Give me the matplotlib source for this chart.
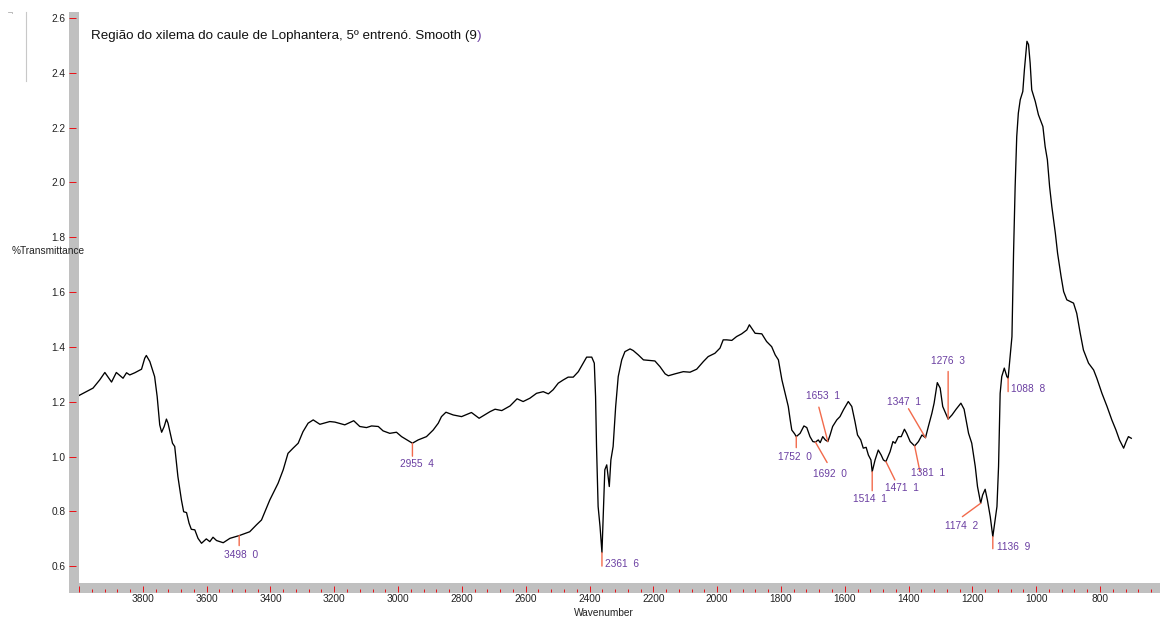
import numpy as np
import matplotlib
matplotlib.use("Agg")
import matplotlib.pyplot as plt
from matplotlib.patches import Rectangle
from matplotlib.lines import Line2D
from matplotlib.ticker import MultipleLocator, FuncFormatter

plt.rcParams['font.family'] = ['Liberation Sans', 'DejaVu Sans']

# Smoothed FTIR spectrum (wavenumber in cm-1, %T)
wavenumber = [
    4000, 3956, 3935, 3919, 3898, 3883, 3862, 3851, 3841, 3825, 3804, 3794, 3789, 3778, 3763,
    3755, 3747, 3741, 3733, 3726, 3721, 3707, 3700, 3690, 3679, 3672, 3663, 3655, 3648, 3637,
    3627, 3616, 3601, 3590, 3580, 3569, 3548, 3527, 3498, 3465, 3444, 3428, 3402, 3376, 3360,
    3345, 3329, 3313, 3298, 3282, 3266, 3245, 3214, 3198, 3167, 3139, 3120, 3099, 3083, 3062,
    3047, 3026, 3005, 2989, 2968, 2955, 2937, 2911, 2890, 2874, 2864, 2850, 2827, 2801, 2770,
    2746, 2712, 2696, 2675, 2649, 2627, 2608, 2587, 2566, 2545, 2529, 2514, 2498, 2482, 2467,
    2451, 2435, 2420, 2409, 2393, 2385, 2381, 2378, 2373, 2367, 2361, 2357, 2352, 2346, 2338,
    2333, 2326, 2318, 2310, 2299, 2289, 2273, 2263, 2247, 2231, 2195, 2179, 2163, 2153, 2132,
    2106, 2085, 2064, 2043, 2028, 2007, 1991, 1981, 1970, 1954, 1939, 1923, 1907, 1899, 1881,
    1860, 1845, 1829, 1818, 1808, 1797, 1787, 1777, 1771, 1766, 1757, 1752, 1740, 1728, 1719,
    1709, 1700, 1692, 1683, 1677, 1669, 1661, 1653, 1646, 1638, 1625, 1615, 1604, 1589, 1578,
    1568, 1560, 1550, 1542, 1533, 1526, 1518, 1514, 1505, 1495, 1486, 1479, 1471, 1458, 1449,
    1442, 1432, 1423, 1413, 1406, 1395, 1381, 1369, 1358, 1347, 1338, 1327, 1320, 1310, 1301,
    1293, 1276, 1264, 1251, 1236, 1226, 1212, 1202, 1191, 1184, 1174, 1168, 1160, 1153, 1144,
    1136, 1123, 1118, 1113, 1108, 1100, 1092, 1088, 1076, 1071, 1066, 1061, 1056, 1050, 1042,
    1037, 1029, 1024, 1019, 1014, 1003, 993, 979, 972, 965, 958, 951, 940, 933, 922,
    914, 904, 883, 873, 862, 852, 836, 820, 810, 794, 778, 763, 750, 739, 726,
    718, 711, 702,
]
transmittance = [
    1.223, 1.250, 1.280, 1.307, 1.272, 1.307, 1.286, 1.306, 1.298, 1.306, 1.319, 1.359, 1.369, 1.347, 1.292,
    1.219, 1.116, 1.089, 1.110, 1.137, 1.122, 1.049, 1.037, 0.927, 0.842, 0.799, 0.796, 0.757, 0.735, 0.733,
    0.702, 0.684, 0.700, 0.690, 0.706, 0.694, 0.686, 0.702, 0.712, 0.726, 0.751, 0.769, 0.842, 0.903, 0.952,
    1.012, 1.031, 1.049, 1.091, 1.122, 1.134, 1.118, 1.128, 1.126, 1.116, 1.131, 1.110, 1.106, 1.112, 1.110,
    1.094, 1.085, 1.089, 1.073, 1.058, 1.049, 1.061, 1.073, 1.097, 1.122, 1.146, 1.162, 1.152, 1.146, 1.161,
    1.140, 1.164, 1.173, 1.168, 1.185, 1.211, 1.201, 1.213, 1.231, 1.237, 1.229, 1.244, 1.268, 1.280, 1.290,
    1.290, 1.310, 1.341, 1.363, 1.363, 1.341, 1.219, 1.037, 0.818, 0.745, 0.650, 0.781, 0.952, 0.970, 0.891,
    0.988, 1.037, 1.183, 1.292, 1.353, 1.383, 1.393, 1.387, 1.371, 1.353, 1.349, 1.328, 1.302, 1.295, 1.302,
    1.310, 1.308, 1.319, 1.347, 1.365, 1.377, 1.396, 1.426, 1.426, 1.424, 1.438, 1.448, 1.462, 1.481, 1.450,
    1.448, 1.420, 1.401, 1.371, 1.353, 1.280, 1.231, 1.183, 1.134, 1.097, 1.083, 1.073, 1.085, 1.112, 1.106,
    1.073, 1.055, 1.053, 1.061, 1.051, 1.073, 1.061, 1.055, 1.079, 1.110, 1.134, 1.146, 1.171, 1.201, 1.183,
    1.128, 1.079, 1.061, 1.031, 1.034, 1.006, 0.988, 0.945, 0.988, 1.024, 1.006, 0.988, 0.982, 1.018, 1.055,
    1.049, 1.073, 1.073, 1.100, 1.085, 1.055, 1.039, 1.055, 1.079, 1.069, 1.110, 1.158, 1.195, 1.270, 1.250,
    1.183, 1.137, 1.152, 1.173, 1.195, 1.173, 1.085, 1.049, 0.964, 0.891, 0.830, 0.860, 0.881, 0.842, 0.781,
    0.708, 0.818, 0.964, 1.231, 1.292, 1.323, 1.292, 1.286, 1.438, 1.742, 1.985, 2.168, 2.253, 2.302, 2.332,
    2.411, 2.515, 2.503, 2.436, 2.338, 2.296, 2.247, 2.204, 2.131, 2.083, 1.985, 1.912, 1.815, 1.742, 1.657,
    1.602, 1.572, 1.560, 1.523, 1.450, 1.389, 1.341, 1.316, 1.286, 1.231, 1.183, 1.134, 1.097, 1.061, 1.031,
    1.055, 1.073, 1.067,
]

# Peak-pick results: position and flag printed beside it
peak_positions = [3498, 2955, 2361, 1752, 1692, 1653, 1514, 1471, 1381, 1347, 1276, 1174, 1136, 1088]
peak_flags = [0, 4, 6, 0, 0, 1, 1, 1, 1, 1, 3, 2, 9, 8]

y_ticks = [0.6, 0.8, 1.0, 1.2, 1.4, 1.6, 1.8, 2.0, 2.2, 2.4, 2.6]

title_text = "Região do xilema do caule de Lophantera, 5º entrenó. Smooth (9"

# Leader-line end, label offset (pixels from the peak) and label alignment
leader_ends = [(0, -10), (0, -13), (0, -13.5), (0, -11), (11.7, -20.4), (-9, 34.4), (0, -19),
               (9, -18.3), (5.3, -25.7), (-17, 29), (0, 47.6), (-18.3, -13.4), (0, -12), (0, -13.4)]
label_offsets = [(1.5, -19.3), (5, -21), (3, -11.6), (-1.5, -20.6), (14.8, -32), (-4.4, 45.7),
                 (-1.9, -27.6), (16.3, -26), (13.1, -27.3), (-21.3, 35.4), (-0.3, 57.6),
                 (-19.5, -22.7), (4, -10.6), (3, -11)]
label_align = ['center', 'center', 'left', 'center', 'center', 'center', 'center', 'center',
               'center', 'center', 'center', 'center', 'left', 'left']

W, H = 1160, 621
PT = 72 / 100  # points per pixel at dpi=100

GRAY = '#c0c0c0'
TICK_RED = '#e8141a'
PURPLE = '#6a3ea1'
LEADER = '#f26a4b'
TEXT = '#222222'

fig = plt.figure(figsize=(W / 100, H / 100), dpi=100, facecolor='white')

# Axis frame: grey L-shaped bars along left and bottom
fig.patches.append(Rectangle((69 / W, (H - 593) / H), 10 / W, (593 - 12) / H,
                             transform=fig.transFigure, facecolor=GRAY, edgecolor='none', zorder=-1))
fig.patches.append(Rectangle((69 / W, (H - 593) / H), (W - 69) / W, 10 / H,
                             transform=fig.transFigure, facecolor=GRAY, edgecolor='none', zorder=-1))

ax = fig.add_axes([79 / W, (H - 583) / H, (W - 79) / W, (583 - 12) / H])
ax.set_facecolor('white')
for s in ax.spines.values():
    s.set_visible(False)

wn = np.array(wavenumber, dtype=float)
tr = np.array(transmittance, dtype=float)
ax.plot(wn, tr, color='black', lw=0.95, zorder=3)

ax.set_xlim(4000, 612)
ax.set_ylim(0.6 - 16.7 / 274.2, 2.6 + 6 / 274.2)

# y axis ticks on the grey bar
ax.spines['left'].set_position(('outward', 3 * PT))
ax.set_yticks(y_ticks)
ax.yaxis.set_major_formatter(FuncFormatter(lambda v, p: f"{v:.1f}"))
ax.tick_params(axis='y', which='major', direction='out', length=7 * PT, width=1.0 * PT,
               color=TICK_RED, pad=3.3 * PT, labelsize=7.3, labelcolor=TEXT)

# x axis ticks on the grey bar
ax.spines['bottom'].set_position(('outward', 9 * PT))
ax.xaxis.set_major_locator(MultipleLocator(200))
ax.xaxis.set_minor_locator(MultipleLocator(40))
ax.xaxis.set_major_formatter(FuncFormatter(lambda v, p: "" if v >= 4000 else f"{v:.0f}"))
ax.tick_params(axis='x', which='major', direction='in', length=6 * PT, width=1.0 * PT,
               color=TICK_RED, pad=2.3 * PT, labelsize=7.3, labelcolor=TEXT)
ax.tick_params(axis='x', which='minor', direction='in', length=3 * PT, width=1.0 * PT,
               color=TICK_RED)

# Peak labels with leader lines
for pk, flag, lend, loff, ha in zip(peak_positions, peak_flags, leader_ends, label_offsets, label_align):
    yv = np.interp(pk, wn[::-1], tr[::-1])
    ax.annotate('', xy=(pk, yv), xytext=lend, textcoords='offset pixels',
                arrowprops=dict(arrowstyle='-', color=LEADER, lw=1.0, shrinkA=0, shrinkB=0),
                zorder=4, annotation_clip=False)
    ax.annotate(f"{pk}  {flag}", xy=(pk, yv), xytext=loff, textcoords='offset pixels',
                ha=ha, va='center', color=PURPLE, fontsize=7.3, zorder=5, annotation_clip=False)

# Title with the closing parenthesis in the accent colour
t = fig.text(91 / W, 1 - 36 / H, title_text, ha='left', va='center', fontsize=9.6, color='#111111')
fig.canvas.draw()
bb = t.get_window_extent()
fig.text(bb.x1 / W, 1 - 36 / H, ")", ha='left', va='center', fontsize=9.6, color=PURPLE)

fig.text(12 / W, 1 - 251 / H, "%Transmittance", ha='left', va='center', fontsize=7.3, color=TEXT)
fig.text(604 / W, 1 - 613 / H, "Wavenumber", ha='center', va='center', fontsize=7.3, color=TEXT)

# Small window mark at the top-left corner
fig.lines.append(Line2D([26 / W, 26 / W], [1 - 12 / H, 1 - 81 / H], transform=fig.transFigure,
                        color='#c8c8c8', lw=0.8))
fig.lines.append(Line2D([8 / W, 11.5 / W, 11.5 / W], [1 - 11.5 / H, 1 - 11.5 / H, 1 - 13 / H],
                        transform=fig.transFigure, color='#b0b0b0', lw=0.6))

fig.savefig("out.png", dpi=100, facecolor='white')
